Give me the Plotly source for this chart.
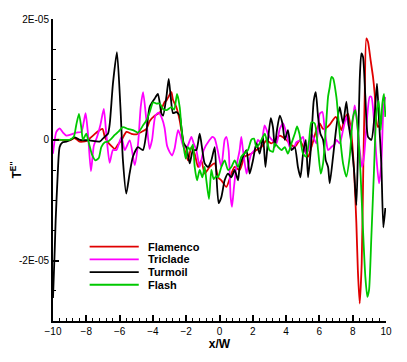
import plotly.graph_objects as go

SCALE = 1e-5  # y values below are in units of 1E-05

flamenco_x = [-10.0, -9.5, -9.0, -8.7, -8.4, -8.0, -7.6, -7.3, -7.03, -6.89, -6.7, -6.5, -6.29, -6.1,
              -5.89, -5.59, -5.29, -4.99, -4.69, -4.39, -4.19, -3.89, -3.59, -3.29, -3.19, -2.99,
              -2.89, -2.79, -2.59, -2.39, -2.23, -2.09, -1.89, -1.69, -1.49, -1.29, -1.09, -0.89,
              -0.59, -0.29, -0.09, 0.11, 0.41, 0.71, 0.91, 1.21, 1.51, 1.91, 2.22, 2.52, 2.82, 3.12,
              3.32, 3.62, 3.92, 4.22, 4.52, 4.82, 5.12, 5.32, 5.52, 5.82, 6.02, 6.22, 6.42, 6.62,
              6.82, 6.97, 7.12, 7.32, 7.52, 7.72, 7.92, 8.08, 8.22, 8.31, 8.42, 8.54, 8.64, 8.72,
              8.82, 8.92, 9.08, 9.22, 9.32, 9.42, 9.52, 9.64]
flamenco_y = [0.0, 0.0, -0.01, 0.03, -0.03, -0.02, 0.07, 0.14, 0.18, 0.05, -0.04, -0.10, -0.15, -0.08,
              -0.01, 0.13, 0.10, 0.09, 0.13, 0.18, 0.31, 0.40, 0.45, 0.63, 0.65, 0.75,
              0.79, 0.66, 0.54, 0.32, 0.05, -0.17, -0.34, -0.12, -0.23, -0.45, -0.34, -0.56,
              -0.45, -0.39, -0.62, -0.67, -0.78, -0.56, -0.45, -0.50, -0.28, -0.23, -0.17, -0.12, -0.01, -0.06,
              -0.01, 0.07, 0.02, -0.06, -0.12, -0.01, -0.17, -0.28, -0.12, 0.16, 0.27, 0.18, 0.20, 0.25,
              0.33, 0.38, 0.32, 0.16, 0.35, 0.43, 0.10, -0.50, -1.38, -2.16, -2.71, -2.05, -0.39, 0.71,
              1.68, 1.62, 1.31, 1.04, 0.76, 0.32, 0.21, 0.25]

triclade_x = [-10.0, -9.8, -9.6, -9.4, -9.2, -8.9, -8.6, -8.3, -8.15, -8.04, -7.9, -7.72, -7.55, -7.35,
              -7.15, -6.95, -6.8, -6.6, -6.4, -6.19, -5.89, -5.69, -5.39, -5.09, -4.89, -4.73, -4.59,
              -4.4, -4.2, -4.05, -3.85, -3.65, -3.45, -3.3, -3.15, -3.0, -2.85, -2.7, -2.49, -2.35,
              -2.15, -1.95, -1.69, -1.55, -1.39, -1.19, -0.95, -0.59, -0.43, -0.29, -0.09, 0.11, 0.31,
              0.41, 0.55, 0.67, 0.75, 0.87, 1.01, 1.21, 1.31, 1.41, 1.62, 1.71, 1.91, 2.11, 2.31, 2.51,
              2.71, 2.91, 3.0, 3.22, 3.42, 3.62, 3.82, 4.02, 4.22, 4.42, 4.62, 4.82, 5.02, 5.18, 5.35,
              5.52, 5.82, 6.02, 6.18, 6.32, 6.4, 6.52, 6.72, 6.9, 7.02, 7.22, 7.42, 7.62, 7.82, 8.02,
              8.12, 8.22, 8.42, 8.56, 8.68, 8.82, 9.02, 9.12, 9.28, 9.42, 9.58, 9.72, 9.85, 9.96]
triclade_y = [-0.23, 0.13, 0.19, 0.12, 0.07, 0.09, 0.12, 0.13, 0.30, 0.44, 0.10, -0.52, -0.10, 0.05,
              0.25, 0.51, 0.10, -0.38, -0.17, -0.17, 0.05, -0.17, -0.01, -0.42, -0.06, 0.55, 0.79,
              0.35, -0.15, 0.0, 0.40, 0.45, 0.35, 0.20, -0.10, -0.20, -0.26, -0.15, 0.16, 0.07,
              -0.12, -0.12, 0.05, -0.06, -0.17, -0.45, -0.17, 0.0, 0.05, 0.02, -0.20, -0.45, 0.0,
              0.05, -0.17, -0.95, -1.11, -0.78, -0.45, -0.17, 0.05, -0.17, -0.56, -0.45, -0.23, -0.17, 0.0, -0.06,
              0.24, 0.10, 0.05, -0.02, -0.06, 0.18, 0.27, 0.10, -0.12, -0.15, -0.04, -0.01, 0.05, -0.23, -0.17,
              0.10, -0.06, 0.43, 0.46, 0.16, 0.0, -0.17, -0.12, -0.08, 0.0, -0.06, 0.16, 0.38, 0.16, 0.35,
              0.57, 0.40, -0.17, -0.45, -0.28, 0.21, 0.71, 0.71, 0.32, -0.28, -0.72, -0.39, 0.54, 0.71]

turmoil_x = [-10.0, -9.9, -9.84, -9.72, -9.6, -9.42, -9.2, -8.95, -8.7, -8.4, -7.8, -7.2, -6.9, -6.7,
             -6.59, -6.4, -6.16, -5.95, -5.8, -5.6, -5.4, -5.2, -4.9, -4.6, -4.4, -4.2, -3.9, -3.7,
             -3.49, -3.39, -3.19, -3.05, -2.93, -2.79, -2.59, -2.39, -2.29, -2.15, -1.99, -1.79, -1.59,
             -1.39, -1.19, -1.03, -0.89, -0.69, -0.49, -0.29, -0.19, -0.05, 0.11, 0.31, 0.51, 0.71,
             0.91, 1.11, 1.21, 1.41, 1.62, 1.81, 2.01, 2.22, 2.41, 2.61, 2.76, 2.91, 3.08, 3.21, 3.32,
             3.45, 3.62, 3.78, 3.92, 4.11, 4.32, 4.52, 4.71, 4.86, 5.02, 5.18, 5.32, 5.48, 5.66, 5.78,
             5.92, 6.06, 6.22, 6.38, 6.52, 6.62, 6.82, 7.02, 7.22, 7.42, 7.62, 7.75, 7.92, 8.08, 8.22,
             8.31, 8.42, 8.52, 8.62, 8.76, 8.92, 9.12, 9.32, 9.46, 9.58, 9.72, 9.84, 9.96]
turmoil_y = [-2.62, -1.85, -1.33, -0.59, -0.12, -0.04, -0.03, 0.0, 0.04, 0.0, -0.01, -0.03, 0.05, 0.10,
             0.27, 0.93, 1.45, 0.54, -0.34, -0.89, -0.56, -0.28, -0.12, -0.17, 0.10, 0.54, 0.68, 0.76,
             0.44, 0.40, 0.71, 1.01, 0.71, 0.44, 0.46, 0.40, 0.21, -0.06, -0.12, -0.39, -0.17,
             -0.17, 0.10, -0.17, -0.39, -0.45, -0.34, -0.12, -0.56, -1.05, -0.95, -0.67, -0.56, -0.62,
             -0.50, -0.67, -0.45, -0.28, -0.17, -0.56, -0.34, -0.06, -0.23, 0.05, -0.45, -0.01, 0.36, 0.21, -0.12,
             0.16, 0.40, 0.27, 0.0, 0.16, -0.17, -0.12, -0.45, -0.62, -0.23, 0.0, -0.62, -0.17, 0.65, 0.79,
             0.38, 0.10, 0.0, -0.34, -0.45, -0.72, -0.28, 0.21, 0.54, 0.27, 0.63, 0.27, -0.06, -0.50, -1.08,
             -0.28, 0.98, 1.43, 1.37, 0.71, 0.05, 0.0, 0.43, 0.93, 0.32, -0.39, -1.45, -1.13]

flash_x = [-10.0, -9.5, -9.0, -8.75, -8.6, -8.44, -8.3, -8.2, -8.0, -7.85, -7.65, -7.45, -7.25, -7.1,
           -6.89, -6.7, -6.49, -6.29, -6.09, -5.8, -5.5, -5.2, -4.89, -4.59, -4.39, -4.19, -3.99, -3.79,
           -3.59, -3.39, -3.19, -2.89, -2.72, -2.55, -2.39, -2.29, -2.15, -2.03, -1.89, -1.75, -1.6,
           -1.49, -1.35, -1.19, -1.03, -0.89, -0.79, -0.63, -0.49, -0.35, -0.19, -0.09, 0.11, 0.31,
           0.51, 0.71, 0.91, 1.11, 1.31, 1.51, 1.71, 1.91, 2.07, 2.22, 2.41, 2.61, 2.72, 2.88, 3.0,
           3.21, 3.32, 3.52, 3.72, 3.92, 4.11, 4.32, 4.52, 4.66, 4.8, 5.02, 5.2, 5.38, 5.52, 5.72,
           5.92, 6.08, 6.22, 6.38, 6.52, 6.62, 6.72, 6.82, 7.02, 7.22, 7.42, 7.62, 7.82, 8.02, 8.16,
           8.31, 8.48, 8.62, 8.76, 8.88, 8.98, 9.12, 9.28, 9.42, 9.56, 9.68, 9.78, 9.88, 9.96]
flash_y = [0.0, 0.0, 0.0, 0.05, 0.25, 0.43, 0.20, 0.0, 0.10, -0.05, -0.25, -0.34, -0.30, -0.12,
           -0.04, -0.03, 0.02, 0.08, 0.13, 0.21, 0.18, 0.16, 0.12, 0.24, 0.32, 0.46, 0.62, 0.60,
           0.60, 0.51, 0.49, 0.54, 0.50, 0.76, 0.54, 0.21, -0.12, -0.31, -0.12, -0.17, -0.08,
           -0.45, -0.67, -0.50, -0.62, -0.45, -0.67, -0.98, -0.50, -0.65, -0.60, -0.62, -0.45, -0.34,
           -0.50, -0.45, -0.34, -0.45, -0.28, -0.22, -0.17, 0.0, 0.02, -0.12, -0.06, 0.05, 0.10, -0.06, -0.17,
           -0.20, -0.06, -0.12, -0.17, -0.12, -0.23, -0.06, 0.10, 0.22, 0.10, -0.23, -0.28, -0.01, 0.29, 0.27,
           -0.17, -0.56, -0.39, 0.16, 0.71, 0.87, 1.04, 1.02, 0.71, 0.10, -0.39, -0.61, -0.28, 0.38, 0.49,
           0.16, -0.61, -1.50, -2.27, -2.60, -2.49, -1.61, -0.50, 0.43, 0.65, 0.16, 0.60, 0.76, 0.38]

series_names = ["Flamenco", "Triclade", "Turmoil", "Flash"]
series_colors = ["#e00000", "#ff00ff", "#000000", "#00c800"]
series_data = [(flamenco_x, flamenco_y), (triclade_x, triclade_y),
               (turmoil_x, turmoil_y), (flash_x, flash_y)]

fig = go.Figure()

for name, color, (xs, ys) in zip(series_names, series_colors, series_data):
    fig.add_trace(go.Scatter(
        x=xs, y=[v * SCALE for v in ys],
        mode="lines", name=name,
        line=dict(color=color, width=1.8, shape="spline", smoothing=0.6),
        showlegend=False,
    ))

# legend drawn inside the plot, Tecplot style (tight row spacing)
legend_y = [-1.77, -1.98, -2.19, -2.40]
for name, color, ly in zip(series_names, series_colors, legend_y):
    fig.add_shape(type="line", xref="x", yref="y",
                  x0=-7.8, x1=-4.85, y0=ly * SCALE, y1=ly * SCALE,
                  line=dict(color=color, width=1.8))
    fig.add_annotation(x=-4.4, y=ly * SCALE, xref="x", yref="y",
                       text=f"<b>{name}</b>", showarrow=False,
                       xanchor="left", yanchor="middle",
                       font=dict(size=11, color="black"))

font_family = "Liberation Sans, Arial, sans-serif"

# the page body adds an 8px offset, so the figure is sized/margined to compensate
fig.update_layout(
    width=399, height=354,
    margin=dict(l=45, r=21, t=11, b=41, autoexpand=False),
    paper_bgcolor="white", plot_bgcolor="white",
    font=dict(family=font_family, color="black", size=10),
    showlegend=False,
    xaxis=dict(
        range=[-10, 10], automargin=False,
        showline=True, linecolor="black", linewidth=2,
        showgrid=False, zeroline=False, mirror=False,
        ticks="inside", ticklen=6, tickwidth=1.5, tickcolor="black",
        tickmode="linear", tick0=-10, dtick=2,
        tickfont=dict(size=10, color="black"),
        minor=dict(ticks="inside", ticklen=3, tickwidth=1, tickcolor="black",
                   tickmode="linear", tick0=-10, dtick=0.4),
        title=dict(text="<b>x/W</b>", font=dict(size=12, color="black"), standoff=4),
    ),
    yaxis=dict(
        range=[-3e-5, 2e-5], automargin=False,
        showline=True, linecolor="black", linewidth=2,
        showgrid=False, zeroline=False, mirror=False,
        ticks="inside", ticklen=6, tickwidth=1.5, tickcolor="black",
        tickmode="array", tickvals=[-2e-5, 0, 2e-5], ticktext=["-2E-05", "0", "2E-05"],
        tickfont=dict(size=10, color="black"),
        minor=dict(ticks="inside", ticklen=3, tickwidth=1, tickcolor="black",
                   tickmode="array",
                   tickvals=[k * 0.5e-5 for k in range(-6, 5)]),
        title=dict(text="<b>T<sup>E''</sup></b>", font=dict(size=12, color="black"), standoff=6),
    ),
)

fig.write_html("out.html")
